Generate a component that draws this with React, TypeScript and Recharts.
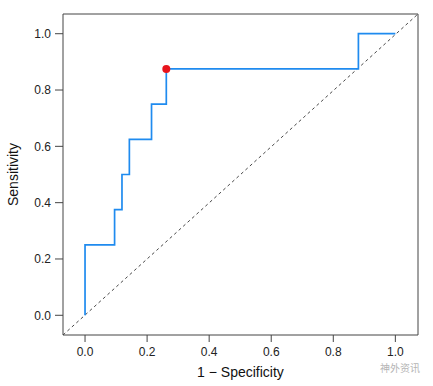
import {
  ComposedChart,
  Line,
  Scatter,
  XAxis,
  YAxis,
  ReferenceLine,
} from "recharts";

// ROC points (1 - specificity, sensitivity)
const fpr = [0, 0, 4 / 42, 5 / 42, 6 / 42, 9 / 42, 11 / 42, 37 / 42, 1];
const tpr = [0, 0.25, 0.375, 0.5, 0.625, 0.75, 0.875, 1, 1];

// best cut-off point
const bestFpr = [11 / 42];
const bestTpr = [0.875];

const ticks = [0, 0.2, 0.4, 0.6, 0.8, 1];
const xDomain = [-0.071, 1.073];
const yDomain = [-0.07, 1.07];

const rocData = fpr.map((x, i) => ({ x, y: tpr[i] }));
const bestData = bestFpr.map((x, i) => ({ x, y: bestTpr[i] }));

const FONT = "'Liberation Sans', Arial, Helvetica, sans-serif";
const AXIS = "#444";

function YLabel(props: any) {
  const vb = props.viewBox;
  const cx = vb.x + 13;
  const cy = vb.y + vb.height / 2;
  return (
    <text
      x={cx}
      y={cy}
      transform={`rotate(-90 ${cx} ${cy})`}
      textAnchor="middle"
      dominantBaseline="central"
      fontSize={14}
      fontFamily={FONT}
      fill="#111"
    >
      Sensitivity
    </text>
  );
}

function XLabel(props: any) {
  const vb = props.viewBox;
  return (
    <g>
      <text
        x={vb.x + vb.width / 2}
        y={vb.y + 37}
        textAnchor="middle"
        dominantBaseline="central"
        fontSize={14}
        fontFamily={FONT}
        fill="#111"
      >
        1 − Specificity
      </text>
      <text
        x={vb.x + vb.width + 2}
        y={vb.y + 32}
        textAnchor="end"
        dominantBaseline="central"
        fontSize={10}
        fontFamily="'Noto Sans CJK SC', sans-serif"
        fill="#b5b5b5"
      >
        神外资讯
      </text>
    </g>
  );
}

export default function App() {
  const tickStyle = { fontSize: 12, fill: "#222", fontFamily: FONT };
  return (
    <div style={{ position: "absolute", left: 0, top: 0, background: "#fff" }}>
      <ComposedChart
        width={433}
        height={386}
        margin={{ top: 0, right: 0, left: 0, bottom: 0 }}
      >
        <XAxis
          xAxisId="b"
          type="number"
          dataKey="x"
          domain={xDomain}
          ticks={ticks}
          allowDataOverflow
          height={51}
          tickSize={7}
          tickMargin={5}
          stroke={AXIS}
          tick={tickStyle}
          tickFormatter={(v: number) => v.toFixed(1)}
          label={<XLabel />}
        />
        <XAxis
          xAxisId="t"
          orientation="top"
          type="number"
          dataKey="x"
          domain={xDomain}
          ticks={ticks}
          allowDataOverflow
          height={14}
          tickSize={8}
          stroke={AXIS}
          tick={false}
        />
        <YAxis
          yAxisId="l"
          type="number"
          dataKey="y"
          domain={yDomain}
          ticks={ticks}
          allowDataOverflow
          width={63}
          tickSize={8}
          tickMargin={4}
          stroke={AXIS}
          tick={tickStyle}
          tickFormatter={(v: number) => v.toFixed(1)}
          label={<YLabel />}
        />
        <YAxis
          yAxisId="r"
          orientation="right"
          type="number"
          dataKey="y"
          domain={yDomain}
          ticks={ticks}
          allowDataOverflow
          width={15}
          tickSize={8}
          stroke={AXIS}
          tick={false}
        />
        <ReferenceLine
          xAxisId="b"
          yAxisId="l"
          segment={[
            { x: xDomain[0], y: yDomain[0] },
            { x: xDomain[1], y: yDomain[1] },
          ]}
          stroke="#333"
          strokeWidth={0.9}
          strokeDasharray="3 3"
          ifOverflow="visible"
        />
        <Line
          xAxisId="b"
          yAxisId="l"
          data={rocData}
          dataKey="y"
          type="stepAfter"
          stroke="#1f8bef"
          strokeWidth={1.7}
          dot={false}
          activeDot={false}
          isAnimationActive={false}
        />
        <Scatter
          xAxisId="b"
          yAxisId="l"
          data={bestData}
          dataKey="y"
          fill="#e8141c"
          shape={(p: any) => <circle cx={p.cx} cy={p.cy} r={4} fill="#e8141c" />}
          isAnimationActive={false}
        />
      </ComposedChart>
    </div>
  );
}
